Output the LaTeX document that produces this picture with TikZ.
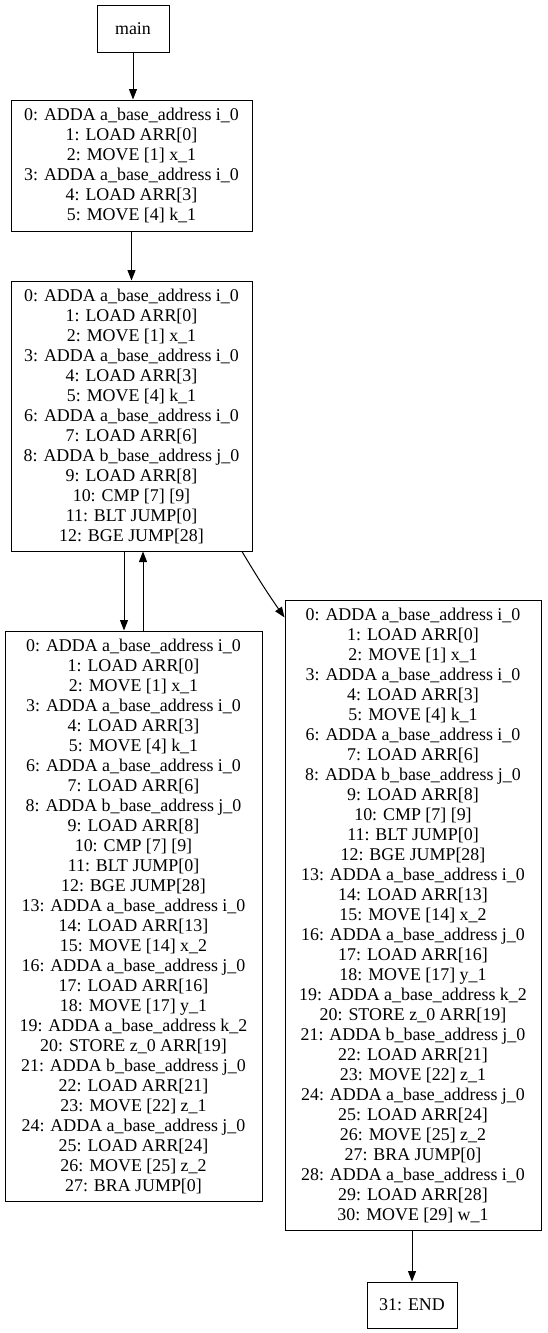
\documentclass[tikz,border=0pt]{standalone}
\usepackage{fontspec}
\setmainfont{Liberation Serif}
\usetikzlibrary{arrows.meta}
\begin{document}
\begin{tikzpicture}[x=1pt,y=1pt,
  blk/.style={draw, line width=1pt, inner sep=0pt, align=center,
    font=\fontsize{17.9}{20}\selectfont},
  arr/.style={line width=1pt, -{Triangle[length=10.5pt,width=8pt]}}]
\useasboundingbox (0,0) rectangle (547,-1333);
\node[blk, minimum width=72pt, minimum height=47pt] (main) at (133,-28.5) {main};
\node[blk, minimum width=241pt, minimum height=131pt] (b1) at (131.5,-165.5) {0: ADDA a\_base\_address i\_0\\1: LOAD ARR[0]\\2: MOVE [1] x\_1\\3: ADDA a\_base\_address i\_0\\4: LOAD ARR[3]\\5: MOVE [4] k\_1};
\node[blk, minimum width=241pt, minimum height=270pt] (b2) at (131.5,-416) {0: ADDA a\_base\_address i\_0\\1: LOAD ARR[0]\\2: MOVE [1] x\_1\\3: ADDA a\_base\_address i\_0\\4: LOAD ARR[3]\\5: MOVE [4] k\_1\\6: ADDA a\_base\_address i\_0\\7: LOAD ARR[6]\\8: ADDA b\_base\_address j\_0\\9: LOAD ARR[8]\\10: CMP [7] [9]\\11: BLT JUMP[0]\\12: BGE JUMP[28]};
\node[blk, minimum width=257pt, minimum height=570pt] (b3) at (133.5,-916) {0: ADDA a\_base\_address i\_0\\1: LOAD ARR[0]\\2: MOVE [1] x\_1\\3: ADDA a\_base\_address i\_0\\4: LOAD ARR[3]\\5: MOVE [4] k\_1\\6: ADDA a\_base\_address i\_0\\7: LOAD ARR[6]\\8: ADDA b\_base\_address j\_0\\9: LOAD ARR[8]\\10: CMP [7] [9]\\11: BLT JUMP[0]\\12: BGE JUMP[28]\\13: ADDA a\_base\_address i\_0\\14: LOAD ARR[13]\\15: MOVE [14] x\_2\\16: ADDA a\_base\_address j\_0\\17: LOAD ARR[16]\\18: MOVE [17] y\_1\\19: ADDA a\_base\_address k\_2\\20: STORE z\_0 ARR[19]\\21: ADDA b\_base\_address j\_0\\22: LOAD ARR[21]\\23: MOVE [22] z\_1\\24: ADDA a\_base\_address j\_0\\25: LOAD ARR[24]\\26: MOVE [25] z\_2\\27: BRA JUMP[0]};
\node[blk, minimum width=256pt, minimum height=630pt] (b4) at (413,-915) {0: ADDA a\_base\_address i\_0\\1: LOAD ARR[0]\\2: MOVE [1] x\_1\\3: ADDA a\_base\_address i\_0\\4: LOAD ARR[3]\\5: MOVE [4] k\_1\\6: ADDA a\_base\_address i\_0\\7: LOAD ARR[6]\\8: ADDA b\_base\_address j\_0\\9: LOAD ARR[8]\\10: CMP [7] [9]\\11: BLT JUMP[0]\\12: BGE JUMP[28]\\13: ADDA a\_base\_address i\_0\\14: LOAD ARR[13]\\15: MOVE [14] x\_2\\16: ADDA a\_base\_address j\_0\\17: LOAD ARR[16]\\18: MOVE [17] y\_1\\19: ADDA a\_base\_address k\_2\\20: STORE z\_0 ARR[19]\\21: ADDA b\_base\_address j\_0\\22: LOAD ARR[21]\\23: MOVE [22] z\_1\\24: ADDA a\_base\_address j\_0\\25: LOAD ARR[24]\\26: MOVE [25] z\_2\\27: BRA JUMP[0]\\28: ADDA a\_base\_address i\_0\\29: LOAD ARR[28]\\30: MOVE [29] w\_1};
\node[blk, minimum width=90pt, minimum height=46pt] (end) at (412,-1305) {31: END};
\draw[arr] (main.south) -- (main.south |- b1.north);
\draw[arr] (b1.south) -- (b1.south |- b2.north);
\draw[arr] ([xshift=-7.5pt]b2.south) -- ([xshift=-9.5pt]b3.north);
\draw[arr] ([xshift=9.5pt]b3.north) -- ([xshift=11.5pt]b2.south);
\draw[arr] ([xshift=110.5pt]b2.south) to[bend right=2] ([yshift=-18pt]b4.north west);
\draw[arr] ([xshift=-1pt]b4.south) -- ([xshift=-1pt]b4.south |- end.north);
\end{tikzpicture}
\end{document}
